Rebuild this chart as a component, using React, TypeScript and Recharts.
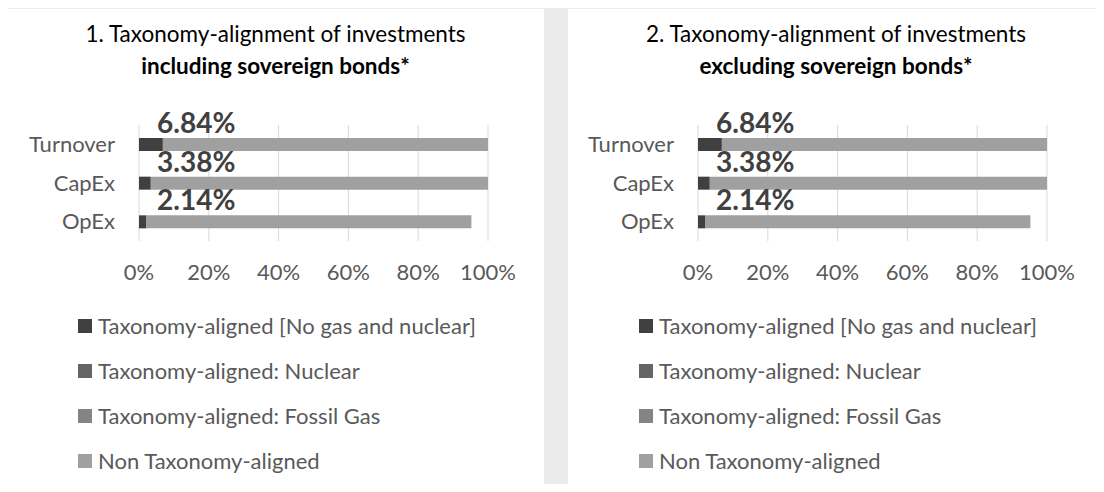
import { BarChart, Bar, XAxis, YAxis, CartesianGrid, Legend, LabelList } from "recharts";

// values in % of investments
const categories = ["Turnover", "CapEx", "OpEx"];
const alignedNoGasNuclear = [6.84, 3.38, 2.14];
const alignedNuclear = [0, 0, 0];
const alignedFossilGas = [0, 0, 0];
const nonAligned = [93.9, 96.62, 93.1];
const xTicks = [0, 20, 40, 60, 80, 100];

const seriesNames = [
  "Taxonomy-aligned [No gas and nuclear]",
  "Taxonomy-aligned: Nuclear",
  "Taxonomy-aligned: Fossil Gas",
  "Non Taxonomy-aligned",
];
const seriesColors = ["#404040", "#656565", "#848484", "#a0a0a0"];

const rows = categories.map((name, i) => ({
  name,
  aligned: alignedNoGasNuclear[i],
  nuclear: alignedNuclear[i],
  gas: alignedFossilGas[i],
  non: nonAligned[i],
}));

const FONT = "Lato, 'Noto Sans', sans-serif";
const TEXT = "#595959";

// keep series order (legend sorts by name otherwise)
const renderLegend = (props: any) => {
  const items = [...props.payload].sort(
    (a: any, b: any) => seriesNames.indexOf(a.value) - seriesNames.indexOf(b.value)
  );
  return (
    <div>
      {items.map((entry: any) => (
        <div key={entry.value} style={{ display: "flex", alignItems: "center", height: 45 }}>
          <span style={{ display: "inline-block", width: 14, height: 14, background: entry.color, marginRight: 6 }} />
          <span style={{ fontSize: 22, color: TEXT, fontFamily: FONT, whiteSpace: "nowrap" }}>{entry.value}</span>
        </div>
      ))}
    </div>
  );
};

const renderPct = (props: any) => {
  const { x, y, value } = props;
  return (
    <text x={x + 18} y={y - 5} fill="#404040" fontSize={28} fontWeight={700} fontFamily={FONT}>
      {value.toFixed(2)}%
    </text>
  );
};

function Panel({ left, width, yAxisWidth, marginRight, num, qualifier }: any) {
  return (
    <div style={{ position: "absolute", left, top: 9, width, height: 483, background: "#fff" }}>
      <BarChart
        width={width}
        height={483}
        data={rows}
        layout="vertical"
        barSize={13}
        margin={{ top: 116, right: marginRight, bottom: 211, left: 0 }}
      >
        <CartesianGrid horizontal={false} stroke="#d9d9d9" />
        <XAxis
          type="number"
          domain={[0, 100]}
          allowDataOverflow
          ticks={xTicks}
          tickFormatter={(v: number) => `${v}%`}
          axisLine={false}
          tickLine={false}
          tickSize={0}
          tickMargin={23}
          height={40}
          tick={{ fill: TEXT, fontSize: 22, fontFamily: FONT }}
        />
        <YAxis
          type="category"
          dataKey="name"
          width={yAxisWidth}
          axisLine={false}
          tickLine={false}
          tickSize={0}
          tickMargin={24}
          tick={{ fill: TEXT, fontSize: 22, fontFamily: FONT }}
        />
        <Legend
          layout="vertical"
          align="center"
          verticalAlign="middle"
          content={renderLegend}
          wrapperStyle={{ left: 71, top: 294, width: "auto" }}
        />
        <Bar dataKey="aligned" name={seriesNames[0]} stackId="a" fill={seriesColors[0]} isAnimationActive={false}>
          <LabelList dataKey="aligned" content={renderPct} />
        </Bar>
        <Bar dataKey="nuclear" name={seriesNames[1]} stackId="a" fill={seriesColors[1]} isAnimationActive={false} />
        <Bar dataKey="gas" name={seriesNames[2]} stackId="a" fill={seriesColors[2]} isAnimationActive={false} />
        <Bar dataKey="non" name={seriesNames[3]} stackId="a" fill={seriesColors[3]} isAnimationActive={false} />
      </BarChart>
      <div
        style={{
          position: "absolute",
          top: 9,
          left: 0,
          width: "100%",
          textAlign: "center",
          fontFamily: FONT,
          fontSize: 22.5,
          lineHeight: "32px",
          color: "#000",
        }}
      >
        <div>{num}. Taxonomy-alignment of investments</div>
        <div style={{ fontWeight: 700 }}>{qualifier} sovereign bonds*</div>
      </div>
    </div>
  );
}

export default function App() {
  return (
    <div
      style={{
        position: "relative",
        margin: -8,
        width: 1104,
        height: 492,
        overflow: "hidden",
        background: "#eaeaea",
        fontFamily: FONT,
      }}
    >
      <Panel left={7} width={537} yAxisWidth={132} marginRight={56} num={1} qualifier="including" />
      <Panel left={568} width={536} yAxisWidth={130} marginRight={57} num={2} qualifier="excluding" />
    </div>
  );
}
